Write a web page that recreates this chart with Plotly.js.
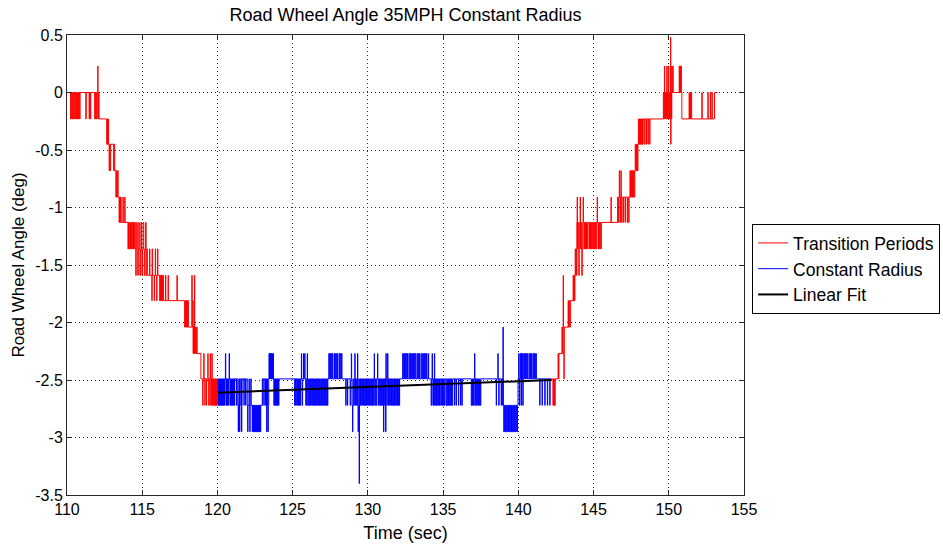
<!DOCTYPE html>
<html>
<head>
<meta charset="utf-8">
<script src="https://cdn.plot.ly/plotly-3.0.1.min.js"></script>
<style>html,body{margin:0;padding:0;background:#fff;}#chart{width:943px;height:548px;}</style>
</head>
<body>
<div id="chart"></div>
<script>
// Samples as (time sec, angle deg) pairs; each point starts a new held value.
const transitionDownPts = [
110.20,0, 110.24,-0.23, 110.27,0, 110.31,-0.23, 110.34,0, 110.38,-0.23, 110.41,0, 110.45,-0.23,
110.48,0, 110.52,-0.23, 110.55,0, 110.60,-0.23, 110.63,0, 110.68,-0.23, 110.71,0, 110.76,-0.23,
110.79,0, 110.84,-0.23, 110.87,0, 111.25,-0.23, 111.28,0, 111.47,-0.23, 111.50,0, 111.56,-0.23,
111.58,0, 111.84,-0.23, 111.87,0, 111.91,-0.23, 111.94,0, 111.98,-0.23, 112.01,0, 112.04,0.23,
112.06,0, 112.08,-0.23, 112.10,0, 112.13,-0.23, 112.64,-0.45, 112.67,-0.23, 112.70,-0.45, 112.73,-0.23,
112.76,-0.45, 112.80,-0.68, 112.83,-0.45, 112.87,-0.68, 112.90,-0.45, 113.10,-0.68, 113.13,-0.45, 113.17,-0.68,
113.25,-0.91, 113.28,-0.68, 113.32,-0.91, 113.36,-0.68, 113.40,-0.91, 113.46,-1.13, 113.49,-0.91, 113.53,-1.13,
113.56,-0.91, 113.60,-1.13, 113.72,-0.91, 113.74,-1.13, 113.84,-0.91, 113.86,-1.13, 114.05,-1.36, 114.09,-1.13,
114.13,-1.36, 114.17,-1.13, 114.22,-1.36, 114.26,-1.13, 114.30,-1.36, 114.34,-1.13, 114.38,-1.36, 114.42,-1.13,
114.46,-1.36, 114.50,-1.13, 114.54,-1.36, 114.57,-1.59, 114.60,-1.36, 114.63,-1.13, 114.67,-1.36, 114.70,-1.59,
114.74,-1.36, 114.77,-1.13, 114.81,-1.36, 114.85,-1.59, 114.88,-1.36, 114.91,-1.13, 114.95,-1.36, 114.98,-1.59,
115.02,-1.36, 115.06,-1.13, 115.10,-1.36, 115.14,-1.59, 115.18,-1.36, 115.22,-1.13, 115.26,-1.59, 115.31,-1.36,
115.34,-1.59, 115.49,-1.36, 115.51,-1.59, 115.64,-1.81, 115.66,-1.36, 115.69,-1.59, 115.80,-1.81, 115.82,-1.59,
115.87,-1.36, 115.89,-1.59, 115.96,-1.81, 115.98,-1.59, 116.02,-1.36, 116.04,-1.59, 116.16,-1.81, 116.19,-1.59,
116.22,-1.81, 116.25,-1.59, 116.28,-1.81, 116.31,-1.59, 116.34,-1.81, 116.37,-1.59, 116.41,-1.81, 116.55,-1.59,
116.57,-1.81, 116.72,-1.59, 116.74,-1.81, 117.31,-1.59, 117.33,-1.81, 117.82,-2.04, 117.85,-1.81, 117.88,-2.04,
117.91,-1.81, 117.94,-2.04, 117.97,-1.81, 118.00,-2.04, 118.03,-1.81, 118.07,-2.04, 118.30,-1.59, 118.32,-2.04,
118.36,-1.81, 118.38,-2.27, 118.41,-2.04, 118.44,-2.27, 118.47,-1.59, 118.49,-2.04, 118.52,-2.27, 118.55,-2.04,
118.58,-2.27, 118.62,-2.04, 118.65,-2.27, 118.90,-2.49, 119.02,-2.72, 119.04,-2.49, 119.09,-2.27, 119.11,-2.49,
119.16,-2.72, 119.18,-2.49, 119.26,-2.72, 119.28,-2.49, 119.36,-2.27, 119.38,-2.49, 119.42,-2.72, 119.44,-2.49,
119.50,-2.72, 119.52,-2.27, 119.54,-2.49, 119.60,-2.72, 119.63,-2.27, 119.65,-2.72, 119.68,-2.49, 119.72,-2.72,
119.75,-2.49, 119.78,-2.72, 119.81,-2.49, 119.84,-2.72, 119.87,-2.49, 119.90,-2.72, 119.93,-2.49, 119.96,-2.72,
119.99,-2.49
];
const constantRadiusPts = [
120.02,-2.49, 120.05,-2.72, 120.08,-2.49, 120.11,-2.72, 120.14,-2.49, 120.17,-2.72, 120.20,-2.49, 120.23,-2.72,
120.26,-2.49, 120.29,-2.72, 120.32,-2.49, 120.35,-2.72, 120.38,-2.49, 120.41,-2.72, 120.44,-2.49, 120.47,-2.72,
120.50,-2.49, 120.53,-2.27, 120.55,-2.49, 120.58,-2.72, 120.61,-2.49, 120.64,-2.72, 120.67,-2.49, 120.70,-2.72,
120.73,-2.49, 120.78,-2.27, 120.80,-2.49, 120.83,-2.72, 120.86,-2.49, 120.89,-2.72, 120.92,-2.49, 120.95,-2.72,
120.98,-2.49, 121.01,-2.72, 121.04,-2.49, 121.08,-2.72, 121.10,-2.49, 121.13,-2.72, 121.15,-2.49, 121.27,-2.72,
121.29,-2.49, 121.36,-2.72, 121.38,-2.95, 121.40,-2.72, 121.43,-2.49, 121.47,-2.95, 121.49,-2.72, 121.52,-2.49,
121.60,-2.95, 121.62,-2.72, 121.64,-2.49, 121.76,-2.72, 121.78,-2.49, 121.87,-2.72, 121.89,-2.49, 121.98,-2.72,
122.01,-2.95, 122.03,-2.72, 122.10,-2.49, 122.12,-2.72, 122.15,-2.95, 122.17,-2.72, 122.22,-2.49, 122.24,-2.72,
122.31,-2.95, 122.34,-2.72, 122.37,-2.95, 122.40,-2.72, 122.43,-2.95, 122.46,-2.72, 122.49,-2.95, 122.52,-2.72,
122.55,-2.95, 122.58,-2.72, 122.61,-2.95, 122.64,-2.72, 122.67,-2.95, 122.70,-2.72, 122.73,-2.95, 122.76,-2.72,
122.79,-2.95, 122.82,-2.72, 122.85,-2.95, 122.88,-2.72, 122.98,-2.49, 123.02,-2.72, 123.04,-2.49, 123.15,-2.72,
123.17,-2.49, 123.20,-2.72, 123.23,-2.49, 123.26,-2.72, 123.27,-2.95, 123.29,-2.72, 123.32,-2.49, 123.35,-2.72,
123.36,-2.95, 123.38,-2.72, 123.41,-2.49, 123.43,-2.27, 123.45,-2.49, 123.47,-2.27, 123.49,-2.49, 123.51,-2.27,
123.53,-2.49, 123.55,-2.27, 123.57,-2.49, 123.60,-2.27, 123.62,-2.49, 123.65,-2.27, 123.67,-2.49, 123.70,-2.27,
123.72,-2.49, 123.75,-2.72, 123.78,-2.49, 123.81,-2.72, 123.84,-2.49, 123.87,-2.72, 123.90,-2.49, 123.93,-2.72,
123.96,-2.49, 123.99,-2.72, 124.02,-2.49, 124.05,-2.72, 124.09,-2.49, 125.13,-2.72, 125.16,-2.49, 125.20,-2.72,
125.23,-2.49, 125.28,-2.72, 125.31,-2.49, 125.35,-2.72, 125.38,-2.49, 125.43,-2.72, 125.46,-2.49, 125.50,-2.72,
125.53,-2.49, 125.58,-2.27, 125.60,-2.49, 125.63,-2.72, 125.66,-2.49, 125.72,-2.27, 125.74,-2.49, 125.80,-2.27,
125.82,-2.49, 125.87,-2.72, 125.90,-2.49, 125.94,-2.72, 125.97,-2.27, 125.99,-2.49, 126.03,-2.72, 126.07,-2.49,
126.11,-2.72, 126.15,-2.49, 126.19,-2.72, 126.23,-2.49, 126.27,-2.72, 126.31,-2.49, 126.35,-2.72, 126.39,-2.49,
126.43,-2.72, 126.47,-2.49, 126.51,-2.72, 126.55,-2.49, 126.59,-2.72, 126.63,-2.49, 126.67,-2.72, 126.71,-2.49,
126.75,-2.72, 126.79,-2.49, 126.83,-2.72, 126.87,-2.49, 126.91,-2.72, 126.95,-2.49, 126.99,-2.72, 127.03,-2.49,
127.07,-2.72, 127.11,-2.49, 127.15,-2.72, 127.19,-2.49, 127.23,-2.72, 127.27,-2.49, 127.31,-2.72, 127.34,-2.49,
127.40,-2.27, 127.44,-2.49, 127.48,-2.27, 127.52,-2.49, 127.56,-2.27, 127.60,-2.49, 127.64,-2.27, 127.68,-2.49,
127.78,-2.27, 127.82,-2.49, 127.86,-2.27, 127.90,-2.49, 127.94,-2.27, 127.98,-2.49, 128.08,-2.27, 128.12,-2.49,
128.16,-2.27, 128.20,-2.49, 128.24,-2.27, 128.28,-2.49, 128.53,-2.72, 128.55,-2.49, 128.64,-2.72, 128.66,-2.49,
128.82,-2.72, 128.86,-2.49, 128.90,-2.27, 128.92,-2.49, 128.95,-2.72, 128.98,-2.95, 129.00,-2.72, 129.03,-2.49,
129.07,-2.72, 129.10,-2.49, 129.13,-2.27, 129.15,-2.49, 129.18,-2.72, 129.22,-2.49, 129.26,-2.72, 129.29,-2.49,
129.31,-2.27, 129.33,-2.72, 129.35,-2.95, 129.37,-2.72, 129.40,-2.49, 129.42,-3.40, 129.44,-2.72, 129.47,-2.49,
129.51,-2.72, 129.55,-2.49, 129.59,-2.72, 129.63,-2.49, 129.67,-2.72, 129.71,-2.49, 129.75,-2.72, 129.79,-2.49,
129.83,-2.72, 129.87,-2.49, 129.91,-2.72, 129.95,-2.49, 129.99,-2.72, 130.03,-2.49, 130.07,-2.72, 130.11,-2.49,
130.15,-2.72, 130.19,-2.49, 130.23,-2.72, 130.27,-2.49, 130.31,-2.72, 130.35,-2.49, 130.39,-2.72, 130.42,-2.27,
130.44,-2.49, 130.48,-2.72, 130.52,-2.49, 130.56,-2.72, 130.60,-2.49, 130.64,-2.27, 130.66,-2.49, 130.70,-2.72,
130.74,-2.49, 130.78,-2.72, 130.82,-2.49, 130.86,-2.72, 130.90,-2.49, 130.94,-2.72, 130.98,-2.49, 131.04,-2.95,
131.06,-2.72, 131.09,-2.49, 131.13,-2.72, 131.16,-2.49, 131.18,-2.95, 131.20,-2.27, 131.22,-2.49, 131.26,-2.72,
131.29,-2.49, 131.31,-2.27, 131.33,-2.49, 131.37,-2.72, 131.41,-2.49, 131.45,-2.72, 131.49,-2.49, 131.53,-2.72,
131.57,-2.49, 131.61,-2.72, 131.65,-2.49, 131.69,-2.72, 131.73,-2.49, 131.77,-2.72, 131.81,-2.49, 131.85,-2.72,
131.89,-2.49, 131.93,-2.72, 131.97,-2.49, 132.01,-2.72, 132.05,-2.49, 132.09,-2.72, 132.11,-2.49, 132.31,-2.27,
132.35,-2.49, 132.39,-2.27, 132.43,-2.49, 132.47,-2.27, 132.51,-2.49, 132.55,-2.27, 132.59,-2.49, 132.63,-2.27,
132.67,-2.49, 132.75,-2.27, 132.79,-2.49, 132.83,-2.27, 132.87,-2.49, 132.91,-2.27, 132.95,-2.49, 132.99,-2.27,
133.03,-2.49, 133.07,-2.27, 133.11,-2.49, 133.15,-2.27, 133.19,-2.49, 133.27,-2.27, 133.31,-2.49, 133.35,-2.27,
133.39,-2.49, 133.43,-2.27, 133.47,-2.49, 133.57,-2.27, 133.61,-2.49, 133.65,-2.27, 133.69,-2.49, 133.73,-2.27,
133.77,-2.49, 133.81,-2.27, 133.85,-2.49, 133.89,-2.27, 133.93,-2.49, 134.02,-2.27, 134.04,-2.49, 134.20,-2.72,
134.24,-2.49, 134.27,-2.27, 134.29,-2.49, 134.32,-2.72, 134.36,-2.49, 134.40,-2.72, 134.42,-2.27, 134.44,-2.49,
134.48,-2.72, 134.52,-2.49, 134.56,-2.72, 134.60,-2.49, 134.64,-2.72, 134.68,-2.49, 134.72,-2.72, 134.76,-2.49,
134.84,-2.72, 134.88,-2.49, 134.92,-2.72, 134.96,-2.49, 135.00,-2.72, 135.04,-2.49, 135.08,-2.72, 135.12,-2.49,
135.20,-2.72, 135.24,-2.49, 135.28,-2.72, 135.32,-2.49, 135.36,-2.72, 135.40,-2.49, 135.44,-2.72, 135.48,-2.49,
135.52,-2.72, 135.56,-2.49, 135.60,-2.72, 135.64,-2.49, 135.76,-2.72, 135.78,-2.49, 135.87,-2.72, 135.89,-2.49,
136.02,-2.72, 136.04,-2.49, 136.16,-2.72, 136.18,-2.49, 136.25,-2.72, 136.27,-2.49, 136.87,-2.72, 136.91,-2.49,
136.95,-2.72, 136.99,-2.49, 137.03,-2.72, 137.07,-2.49, 137.09,-2.27, 137.11,-2.49, 137.15,-2.72, 137.19,-2.49,
137.23,-2.72, 137.27,-2.49, 137.31,-2.72, 137.35,-2.49, 137.39,-2.72, 137.43,-2.49, 137.47,-2.72, 137.51,-2.49,
138.53,-2.72, 138.55,-2.49, 138.64,-2.27, 138.66,-2.49, 138.70,-2.72, 138.72,-2.49, 138.86,-2.72, 138.88,-2.49,
138.96,-2.72, 138.98,-2.04, 139.00,-2.72, 139.03,-2.95, 139.07,-2.72, 139.11,-2.95, 139.15,-2.72, 139.19,-2.95,
139.23,-2.72, 139.27,-2.95, 139.31,-2.72, 139.35,-2.95, 139.39,-2.72, 139.43,-2.95, 139.47,-2.72, 139.51,-2.95,
139.55,-2.72, 139.59,-2.95, 139.63,-2.72, 139.67,-2.95, 139.71,-2.72, 139.75,-2.95, 139.79,-2.72, 139.83,-2.95,
139.87,-2.72, 139.91,-2.95, 139.95,-2.72, 139.98,-2.49, 140.02,-2.27, 140.05,-2.49, 140.08,-2.72, 140.10,-2.49,
140.13,-2.27, 140.16,-2.49, 140.19,-2.72, 140.21,-2.27, 140.24,-2.49, 140.27,-2.27, 140.30,-2.72, 140.32,-2.49,
140.36,-2.27, 140.40,-2.49, 140.44,-2.27, 140.48,-2.49, 140.52,-2.27, 140.56,-2.49, 140.60,-2.27, 140.64,-2.49,
140.72,-2.27, 140.76,-2.49, 140.80,-2.27, 140.84,-2.49, 140.88,-2.27, 140.92,-2.49, 141.00,-2.27, 141.04,-2.49,
141.08,-2.27, 141.12,-2.49, 141.16,-2.27, 141.20,-2.49, 141.42,-2.72, 141.44,-2.49, 141.58,-2.72, 141.60,-2.49,
141.76,-2.72, 141.78,-2.49, 141.93,-2.72, 141.95,-2.49, 142.09,-2.72, 142.11,-2.49, 142.20,-2.49
];
const transitionUpPts = [
142.20,-2.49, 142.30,-2.72, 142.33,-2.49, 142.36,-2.72, 142.39,-2.49, 142.42,-2.72, 142.45,-2.49, 142.64,-2.27,
142.67,-2.49, 142.70,-2.27, 142.90,-2.04, 142.93,-2.27, 142.96,-2.04, 142.98,-1.59, 143.00,-2.04, 143.03,-2.49,
143.05,-2.04, 143.31,-1.81, 143.34,-2.04, 143.38,-1.81, 143.42,-2.04, 143.46,-1.81, 143.64,-1.59, 143.67,-1.81,
143.70,-1.59, 143.73,-1.81, 143.76,-1.59, 143.78,-1.36, 143.81,-1.59, 143.84,-1.36, 143.87,-1.59, 143.89,-1.13,
143.91,-0.91, 143.93,-1.36, 143.96,-1.13, 143.99,-1.36, 144.02,-1.59, 144.05,-1.36, 144.08,-1.13, 144.11,-0.91,
144.13,-1.36, 144.16,-1.13, 144.19,-1.36, 144.22,-1.59, 144.25,-1.36, 144.28,-1.13, 144.31,-0.91, 144.33,-1.13,
144.36,-1.36, 144.39,-1.13, 144.42,-1.36, 144.46,-1.13, 144.50,-1.36, 144.53,-1.13, 144.58,-1.36, 144.61,-1.13,
144.70,-1.36, 144.73,-1.13, 144.77,-1.36, 144.80,-1.13, 144.84,-1.36, 144.87,-1.13, 144.94,-1.36, 144.97,-1.13,
145.01,-1.36, 145.04,-1.13, 145.08,-1.36, 145.12,-1.13, 145.16,-1.36, 145.19,-1.13, 145.24,-0.91, 145.26,-1.13,
145.30,-1.36, 145.33,-1.13, 145.40,-1.36, 145.43,-1.13, 145.48,-1.36, 145.52,-1.13, 146.16,-0.91, 146.18,-1.13,
146.60,-0.91, 146.63,-1.13, 146.66,-0.91, 146.71,-0.68, 146.73,-0.91, 146.76,-1.13, 146.79,-0.91, 146.82,-0.68,
146.84,-0.91, 146.87,-1.13, 146.89,-0.91, 146.98,-1.13, 147.00,-0.91, 147.10,-1.13, 147.12,-0.91, 147.24,-1.13,
147.26,-0.91, 147.34,-1.13, 147.36,-0.91, 147.42,-0.68, 147.45,-0.91, 147.48,-0.68, 147.51,-0.91, 147.54,-0.68,
147.57,-0.91, 147.60,-0.68, 147.63,-0.91, 147.66,-0.68, 147.70,-0.91, 147.74,-0.68, 147.77,-0.45, 147.80,-0.68,
147.83,-0.45, 147.86,-0.68, 147.89,-0.45, 147.92,-0.68, 147.95,-0.45, 147.98,-0.23, 148.01,-0.45, 148.04,-0.23,
148.07,-0.45, 148.10,-0.23, 148.13,-0.45, 148.16,-0.23, 148.19,-0.45, 148.22,-0.23, 148.26,-0.45, 148.30,-0.23,
148.40,-0.45, 148.42,-0.23, 148.51,-0.45, 148.53,-0.23, 148.62,-0.45, 148.64,-0.23, 148.73,-0.45, 148.75,-0.23,
149.64,0, 149.67,-0.23, 149.71,0.23, 149.73,0, 149.76,-0.23, 149.79,0, 149.82,-0.23, 149.85,0,
149.87,0.23, 149.89,0, 149.92,-0.23, 149.95,0, 149.98,0.23, 150.00,-0.23, 150.03,0, 150.06,-0.23,
150.09,0, 150.12,0.48, 150.13,-0.45, 150.15,0, 150.18,-0.23, 150.20,0.23, 150.22,0, 150.27,0.23,
150.29,0, 150.69,0.23, 150.72,0, 150.75,0.23, 150.78,0, 150.81,0.23, 150.84,0, 150.87,-0.23,
151.35,0, 151.38,-0.23, 151.42,0, 151.45,-0.23, 151.49,0, 151.52,-0.23, 152.20,0, 152.22,-0.23,
152.60,0, 152.62,-0.23, 152.76,0, 152.78,-0.23, 152.87,0, 152.89,-0.23, 153.04,0, 153.25,0
];
const linearFitTime = [120.05, 142.20];
const linearFitAngle = [-2.61, -2.50];

const xTicks = [110, 115, 120, 125, 130, 135, 140, 145, 150, 155];
const xTickText = ['110','115','120','125','130','135','140','145','150','155'];
const yTicks = [0.5, 0, -0.5, -1, -1.5, -2, -2.5, -3, -3.5];
const yTickText = ['0.5','0','-0.5','-1','-1.5','-2','-2.5','-3','-3.5'];

function split(p){const x=[],y=[];for(let i=0;i<p.length;i+=2){x.push(p[i]);y.push(p[i+1]);}return {x,y};}
const d1 = split(transitionDownPts), d2 = split(transitionUpPts), cr = split(constantRadiusPts);
const redX = d1.x.concat([null], d2.x), redY = d1.y.concat([null], d2.y);

const FONT = 'Liberation Sans, Arial, Helvetica, sans-serif';
const traces = [
  {x: redX, y: redY, mode: 'lines', name: 'Transition Periods', line: {color: '#ff0000', width: 1, shape: 'hv'}, connectgaps: false},
  {x: cr.x, y: cr.y, mode: 'lines', name: 'Constant Radius', line: {color: '#0000ff', width: 1, shape: 'hv'}},
  {x: linearFitTime, y: linearFitAngle, mode: 'lines', name: 'Linear Fit', line: {color: '#000000', width: 2}}
];
const axisCommon = {
  showline: true, linecolor: '#262626', linewidth: 1, mirror: 'ticks',
  ticks: 'inside', ticklen: 5, tickcolor: '#262626',
  showgrid: true, gridcolor: '#303030', gridwidth: 1, griddash: '1px,3px',
  zeroline: false, automargin: false, tickfont: {family: FONT, size: 16, color: '#000'}
};
const layout = {
  width: 943, height: 548,
  margin: {l: 67, r: 199, t: 35, b: 53, autoexpand: false},
  paper_bgcolor: '#fff', plot_bgcolor: '#fff',
  font: {family: FONT, color: '#000'},
  title: {text: 'Road Wheel Angle 35MPH Constant Radius', font: {family: FONT, size: 18, color: '#000'},
          x: 0.5, xref: 'paper', y: 1 - 15/548, yref: 'container', yanchor: 'middle'},
  xaxis: Object.assign({}, axisCommon, {range: [110, 155], tickvals: xTicks, ticktext: xTickText,
          title: {text: 'Time (sec)', font: {family: FONT, size: 18, color: '#000'}, standoff: 9}}),
  yaxis: Object.assign({}, axisCommon, {range: [-3.5, 0.5], tickvals: yTicks, ticktext: yTickText,
          title: {text: 'Road Wheel Angle (deg)', font: {family: FONT, size: 17, color: '#000'}, standoff: 6}}),
  showlegend: true,
  legend: {x: 1.012, y: 0.589, xanchor: 'left', yanchor: 'top', bgcolor: '#fff', bordercolor: '#000', borderwidth: 1,
           font: {family: FONT, size: 17.5, color: '#000'}, tracegroupgap: 0, itemwidth: 30}
};
Plotly.newPlot('chart', traces, layout, {displayModeBar: false, staticPlot: true});
</script>
</body>
</html>
